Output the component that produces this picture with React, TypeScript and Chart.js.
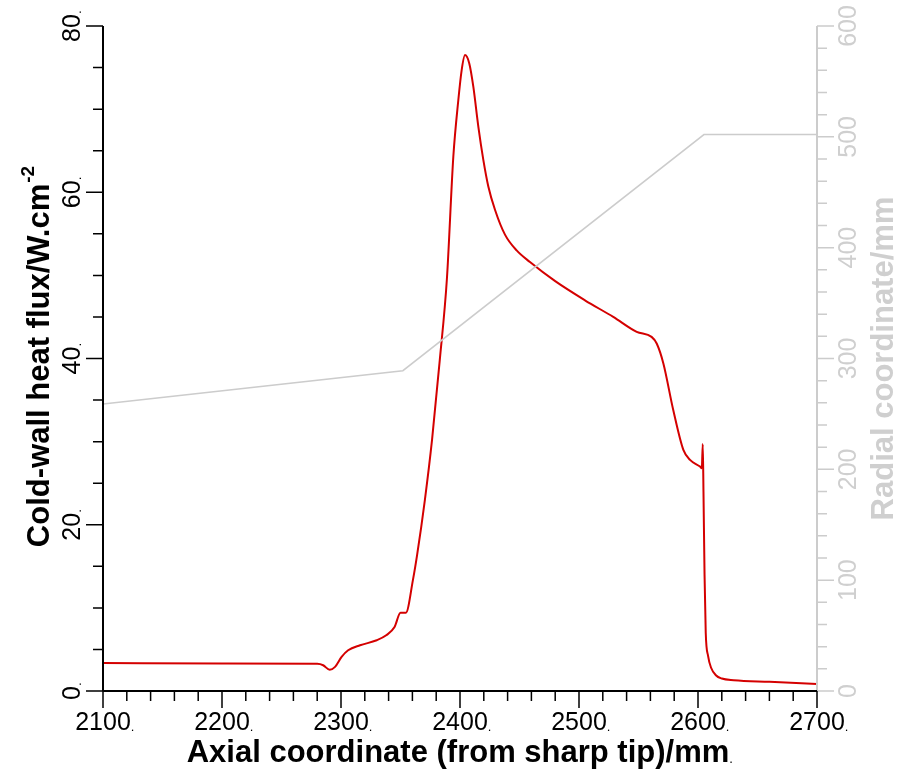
import React, { useEffect, useRef } from "react";
import { Chart, registerables } from "chart.js";
Chart.register(...registerables);

// ---- data ----
const heatX = [
  2100, 2200, 2280, 2285, 2290.5, 2295, 2300.5, 2306, 2316, 2330, 2338, 2345, 2350, 2354.5,
  2360.5, 2364, 2370.5, 2376.5, 2383, 2389, 2394.4, 2398.6, 2401.4, 2404.2, 2407.8, 2411.2,
  2415.4, 2419.6, 2423.8, 2429.4, 2437.8, 2447.6, 2458.8, 2480, 2505, 2528.8, 2548.5, 2561,
  2565.3, 2570.9, 2579.2, 2587.7, 2593.3, 2601.7, 2603.2, 2604.0, 2604.6, 2605.5, 2606.5,
  2608.5, 2611, 2615, 2620, 2630, 2660, 2700,
];
const heatY = [
  3.37, 3.32, 3.27, 3.1, 2.55, 2.9, 4.1, 4.9, 5.5, 6.1, 6.7, 7.7, 9.4, 9.4,
  13.4, 16.4, 23.0, 30.2, 39.8, 49.6, 64.3, 71.1, 74.7, 76.5, 75.5, 72.7,
  67.9, 63.9, 60.7, 57.9, 54.9, 53.0, 51.6, 49.3, 47.0, 45.0, 43.2, 42.6,
  41.8, 39.4, 33.8, 29.0, 27.8, 27.0, 26.8, 29.7, 24.0, 14.0, 7.0,
  4.2, 2.8, 1.9, 1.5, 1.3, 1.1, 0.85,
];
const radialX = [2100, 2352, 2605, 2700];
const radialY = [259, 289, 502, 502];

const xMajorTicks = [2100, 2200, 2300, 2400, 2500, 2600, 2700];
const leftMajorTicks = [0, 20, 40, 60, 80];
const rightMajorTicks = [0, 100, 200, 300, 400, 500, 600];
const xMinorStep = 20;
const leftMinorStep = 5;
const rightMinorStep = 20;

const xTitle = "Axial coordinate (from sharp tip)/mm";
const leftTitle = "Cold-wall heat flux/W.cm";
const leftTitleSup = "-2";
const rightTitle = "Radial coordinate/mm";

const RED = "#d40000";
const GREY = "#cccccc";
const GREY_TEXT = "#cfcfcf";
const FONT = "'Liberation Sans', Arial, Helvetica, sans-serif";
const DOT_FONT = `13px ${FONT}`;

const axesPlugin = {
  id: "tecAxes",
  afterDraw(chart: any) {
    const { ctx, chartArea: a, scales } = chart;
    const sx = scales.x, sy = scales.y, sy1 = scales.y1;
    const MAJ = 17, MIN = 10;
    ctx.save();

    // right axis (grey)
    ctx.strokeStyle = GREY;
    ctx.lineWidth = 2;
    ctx.beginPath();
    ctx.moveTo(a.right, a.top);
    ctx.lineTo(a.right, a.bottom);
    ctx.stroke();
    ctx.lineWidth = 1.5;
    ctx.beginPath();
    for (let v = sy1.min; v <= sy1.max + 1e-6; v += rightMinorStep) {
      const p = sy1.getPixelForValue(v);
      const len = rightMajorTicks.includes(v) ? MAJ : MIN;
      ctx.moveTo(a.right, p);
      ctx.lineTo(a.right + len, p);
    }
    ctx.stroke();

    // left + bottom axes (black)
    ctx.strokeStyle = "#000";
    ctx.lineWidth = 2;
    ctx.beginPath();
    ctx.moveTo(a.left, a.top);
    ctx.lineTo(a.left, a.bottom);
    ctx.moveTo(a.left, a.bottom);
    ctx.lineTo(a.right, a.bottom);
    ctx.stroke();
    ctx.lineWidth = 1.5;
    ctx.beginPath();
    for (let v = sy.min; v <= sy.max + 1e-6; v += leftMinorStep) {
      const p = sy.getPixelForValue(v);
      const len = leftMajorTicks.includes(v) ? MAJ : MIN;
      ctx.moveTo(a.left, p);
      ctx.lineTo(a.left - len, p);
    }
    for (let v = sx.min; v <= sx.max + 1e-6; v += xMinorStep) {
      const p = sx.getPixelForValue(v);
      const len = xMajorTicks.includes(v) ? MAJ : MIN;
      ctx.moveTo(p, a.bottom);
      ctx.lineTo(p, a.bottom + len);
    }
    ctx.stroke();

    // tick labels
    const TICK_FONT = `25px ${FONT}`;
    ctx.fillStyle = "#000";
    ctx.textBaseline = "alphabetic";
    for (const v of xMajorTicks) {
      const p = sx.getPixelForValue(v);
      const s = String(v);
      ctx.font = TICK_FONT;
      const w = ctx.measureText(s).width;
      ctx.textAlign = "center";
      ctx.fillText(s, p, a.bottom + 39);
      ctx.textAlign = "left";
      ctx.font = DOT_FONT;
      ctx.fillText(".", p + w / 2, a.bottom + 40);
    }
    for (const v of leftMajorTicks) {
      const p = sy.getPixelForValue(v);
      const s = String(v);
      ctx.font = TICK_FONT;
      const w = ctx.measureText(s).width;
      ctx.save();
      ctx.translate(a.left - 23, p);
      ctx.rotate(-Math.PI / 2);
      ctx.textAlign = "center";
      ctx.fillText(s, -2, 0);
      ctx.textAlign = "left";
      ctx.font = DOT_FONT;
      ctx.fillText(".", -2 + w / 2, 1);
      ctx.restore();
    }
    ctx.fillStyle = GREY_TEXT;
    ctx.font = TICK_FONT;
    ctx.textAlign = "center";
    for (const v of rightMajorTicks) {
      const p = sy1.getPixelForValue(v);
      ctx.save();
      ctx.translate(a.right + 39, p);
      ctx.rotate(-Math.PI / 2);
      ctx.fillText(String(v), 0, 0);
      ctx.restore();
    }

    // titles
    ctx.font = `bold 31px ${FONT}`;
    ctx.fillStyle = "#000";
    const xc = (a.left + a.right) / 2;
    const tw = ctx.measureText(xTitle).width;
    ctx.textAlign = "left";
    ctx.fillText(xTitle, xc - tw / 2 - 2, a.bottom + 71);
    ctx.font = DOT_FONT;
    ctx.fillText(".", xc + tw / 2 - 2, a.bottom + 72);

    // left title with superscript
    ctx.font = `bold 31px ${FONT}`;
    const mainW = ctx.measureText(leftTitle).width;
    ctx.font = `bold 19px ${FONT}`;
    const supW = ctx.measureText(leftTitleSup).width;
    const total = mainW + supW + 1;
    const yc = (a.top + a.bottom) / 2 - 2;
    ctx.save();
    ctx.translate(49, yc);
    ctx.rotate(-Math.PI / 2);
    ctx.textAlign = "left";
    ctx.font = `bold 31px ${FONT}`;
    ctx.fillText(leftTitle, -total / 2, 0);
    ctx.font = `bold 19px ${FONT}`;
    ctx.fillText(leftTitleSup, -total / 2 + mainW + 1, -15);
    ctx.restore();

    // right title
    ctx.fillStyle = GREY_TEXT;
    ctx.font = `bold 31px ${FONT}`;
    ctx.save();
    ctx.translate(893, yc + 2);
    ctx.rotate(-Math.PI / 2);
    ctx.textAlign = "center";
    ctx.fillText(rightTitle, 0, 0);
    ctx.restore();

    ctx.restore();
  },
};

export default function App() {
  const ref = useRef<HTMLCanvasElement | null>(null);
  useEffect(() => {
    document.body.style.margin = "0";
    const canvas = ref.current;
    if (!canvas) return;
    const chart = new Chart(canvas, {
      type: "scatter",
      data: {
        datasets: [
          {
            label: "Radial coordinate",
            data: radialX.map((x, i) => ({ x, y: radialY[i] })),
            yAxisID: "y1",
            showLine: true,
            borderColor: GREY,
            borderWidth: 1.5,
            pointRadius: 0,
            tension: 0,
          },
          {
            label: "Cold-wall heat flux",
            data: heatX.map((x, i) => ({ x, y: heatY[i] })),
            yAxisID: "y",
            showLine: true,
            borderColor: RED,
            borderWidth: 2,
            pointRadius: 0,
            cubicInterpolationMode: "monotone",
          },
        ],
      },
      options: {
        animation: false,
        responsive: true,
        maintainAspectRatio: false,
        layout: { padding: { left: 103, top: 26, right: 87, bottom: 80 } },
        plugins: { legend: { display: false }, tooltip: { enabled: false } },
        scales: {
          x: { type: "linear", min: 2100, max: 2700, display: false },
          y: { type: "linear", min: 0, max: 80, display: false, position: "left" },
          y1: { type: "linear", min: 0, max: 600, display: false, position: "right" },
        },
      },
      plugins: [axesPlugin],
    } as any);
    return () => chart.destroy();
  }, []);
  return (
    <div style={{ width: 904, height: 771, position: "relative" }}>
      <canvas ref={ref} />
    </div>
  );
}
